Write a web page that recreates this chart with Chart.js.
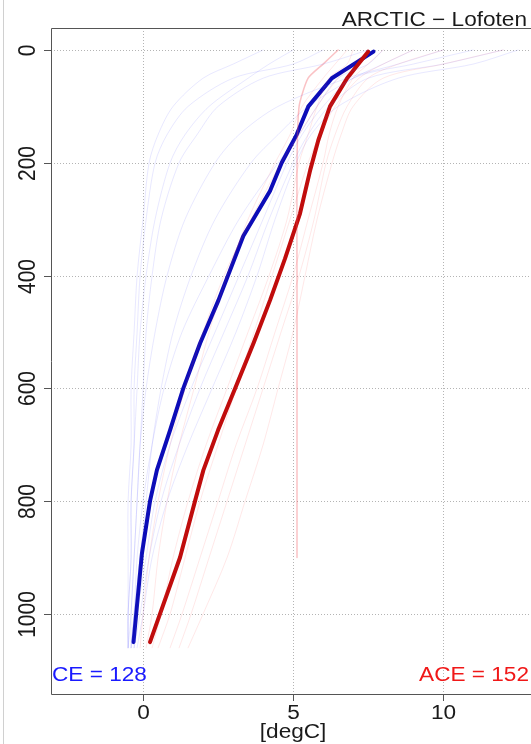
<!DOCTYPE html>
<html>
<head>
<meta charset="utf-8">
<script src="https://cdn.jsdelivr.net/npm/chart.js@4/dist/chart.umd.min.js"></script>
<style>
html, body { margin: 0; padding: 0; background: #fff; overflow: hidden; }
</style>
</head>
<body>
<canvas id="profileChart" width="531" height="744"></canvas>
<script>
// mean profiles (depth in m, temperature in degC)
var ceDepth = [3, 50, 100, 150, 200, 250, 330, 444, 520, 600, 674, 745, 800, 893, 1050];
var ceTemp = [7.68, 6.29, 5.51, 5.12, 4.62, 4.23, 3.34, 2.51, 1.9, 1.34, 0.9, 0.46, 0.23, -0.04, -0.32];
var aceDepth = [3, 50, 100, 160, 213, 290, 370, 444, 520, 600, 674, 745, 800, 900, 1050];
var aceTemp = [7.5, 6.8, 6.23, 5.84, 5.57, 5.23, 4.73, 4.23, 3.68, 3.07, 2.5, 2.01, 1.73, 1.23, 0.23];

// a few of the individual profiles behind the means
var profileDepth = [0, 25, 50, 100, 150, 200, 300, 400, 500, 600, 700, 800, 900, 1000, 1060];
var ceProfiles = [
    [7.5, 6, 4, 2.5, 1.8, 1.2, 0.6, 0.3, 0.1, 0, -0.1, -0.2, -0.3, -0.4, -0.4],
    [9, 8, 7, 5.5, 4.5, 3.6, 2.4, 1.6, 1.0, 0.6, 0.3, 0.1, -0.1, -0.3, -0.4],
    [11, 9, 7, 6, 5.3, 4.8, 4, 3.2, 2.4, 1.6, 0.9, 0.4, 0.1, -0.2, -0.3],
    [6, 5, 3, 1.5, 0.8, 0.4, 0.1, -0.1, -0.2, -0.3, -0.3, -0.4, -0.4, -0.5, -0.5],
    [8, 7.5, 6.5, 5.8, 5.2, 4.5, 3.2, 2.2, 1.3, 0.7, 0.3, 0, -0.2, -0.3, -0.4],
    [12, 10, 7.5, 6.2, 5.5, 5, 4.2, 3.5, 2.7, 1.9, 1.2, 0.6, 0.2, -0.1, -0.3],
    [4, 3, 2, 1, 0.5, 0.2, 0, -0.2, -0.3, -0.4, -0.4, -0.5, -0.5, -0.5, -0.5],
    [10, 8.5, 6.8, 4.5, 3.2, 2.4, 1.4, 0.8, 0.4, 0.1, -0.1, -0.2, -0.3, -0.4, -0.5],
    [5, 4.2, 3.5, 2.2, 1.4, 0.9, 0.4, 0.1, -0.1, -0.2, -0.3, -0.4, -0.4, -0.5, -0.5],
    [12.5, 11, 8.5, 6.5, 5.6, 5.1, 4.4, 3.8, 3.1, 2.3, 1.5, 0.8, 0.3, 0, -0.2]
];
var aceProfiles = [
    [8, 7.5, 7, 6.5, 6.2, 6, 5.5, 5, 4.4, 3.8, 3.1, 2.5, 1.9, 1.3, 0.9],
    [7, 6.8, 6.2, 5.8, 5.5, 5.2, 4.8, 4.2, 3.5, 2.8, 2.1, 1.5, 1, 0.6, 0.3],
    [10, 8.5, 7.5, 6.8, 6.4, 6.1, 5.7, 5.2, 4.6, 4, 3.4, 2.8, 2.2, 1.6, 1.2],
    [7.5, 7, 6.5, 5.8, 5.2, 4.6, 3.6, 2.7, 2, 1.4, 0.9, 0.5, 0.2, 0, -0.1],
    [12, 10, 8, 7, 6.6, 6.3, 5.8, 5.4, 5, 4.5, 4, 3.4, 2.8, 2, 1.5],
    [9, 8, 7.2, 6.4, 5.9, 5.5, 4.9, 4.3, 3.7, 3.1, 2.5, 1.9, 1.4, 0.9, 0.5],
    [6.8, 6.4, 6, 5.3, 4.9, 4.4, 3.5, 2.8, 2.2, 1.7, 1.2, 0.8, 0.5, 0.3, 0.1]
];
// the stack of profiles sitting near 5 degC down to 900 m
var flatDepth = [0, 25, 50, 100, 200, 400, 600, 800, 900];
var flatTemp = [6.5, 6, 5.5, 5.2, 5.13, 5.13, 5.13, 5.13, 5.13];

var xTicks = [0, 5, 10];
var yTicks = [0, 200, 400, 600, 800, 1000];
var ceLabel = 'CE = 128';
var aceLabel = 'ACE = 152';
var titleText = 'ARCTIC \u2212 Lofoten';
var xTitle = '[degC]';

function toPoints(temps, depths) {
    var pts = [];
    for (var i = 0; i < temps.length; i++) {
        if (temps[i] !== null) {
            pts.push({x: temps[i], y: depths[i]});
        }
    }
    return pts;
}

var datasets = [];
ceProfiles.forEach(function (p) {
    datasets.push({data: toPoints(p, profileDepth), borderColor: 'rgba(90,90,255,0.14)', borderWidth: 1, tension: 0.3});
});
aceProfiles.forEach(function (p) {
    datasets.push({data: toPoints(p, profileDepth), borderColor: 'rgba(255,80,80,0.13)', borderWidth: 1, tension: 0.3});
});
datasets.push({data: toPoints(flatTemp, flatDepth), borderColor: 'rgba(240,80,90,0.35)', borderWidth: 1.5, tension: 0.2});
datasets.push({data: toPoints(aceTemp, aceDepth), borderColor: '#c00c0c', borderWidth: 4, tension: 0});
datasets.push({data: toPoints(ceTemp, ceDepth), borderColor: '#0c0cb8', borderWidth: 4, tension: 0});

var FONT = '"Liberation Sans", Arial, sans-serif';
var STRETCH = 1.13; // text in the original is a little wider than tall

function wideText(c, text, x, y, align) {
    c.save();
    c.translate(x, y);
    c.scale(STRETCH, 1);
    c.textAlign = align;
    c.fillText(text, 0, 0);
    c.restore();
}

var framePlugin = {
    id: 'frame',
    beforeDatasetsDraw: function (chart) {
        var c = chart.ctx, a = chart.chartArea;
        var xs = chart.scales.x, ys = chart.scales.y;
        c.save();
        c.strokeStyle = '#b4b4b4';
        c.lineWidth = 1;
        c.setLineDash([1, 2]);
        xTicks.forEach(function (t) {
            var px = Math.round(xs.getPixelForValue(t)) + 0.5;
            c.beginPath(); c.moveTo(px, a.top); c.lineTo(px, a.bottom); c.stroke();
        });
        yTicks.forEach(function (t) {
            var py = Math.round(ys.getPixelForValue(t)) + 0.5;
            c.beginPath(); c.moveTo(a.left, py); c.lineTo(a.right, py); c.stroke();
        });
        c.restore();
    },
    afterDraw: function (chart) {
        var c = chart.ctx, a = chart.chartArea;
        var xs = chart.scales.x, ys = chart.scales.y;
        c.save();
        // image frame
        c.strokeStyle = '#d0d0d0';
        c.lineWidth = 1;
        c.beginPath(); c.moveTo(3.5, 0); c.lineTo(3.5, 744); c.stroke();

        // plot box
        c.strokeStyle = '#555';
        c.beginPath();
        c.moveTo(a.right + 5, Math.round(a.top) + 0.5);
        c.lineTo(Math.round(a.left) + 0.5, Math.round(a.top) + 0.5);
        c.lineTo(Math.round(a.left) + 0.5, Math.round(a.bottom) + 0.5);
        c.lineTo(a.right + 5, Math.round(a.bottom) + 0.5);
        c.stroke();

        c.fillStyle = '#1a1a1a';
        c.textBaseline = 'alphabetic';
        // y ticks (rotated labels)
        c.font = '21px ' + FONT;
        yTicks.forEach(function (t) {
            var py = Math.round(ys.getPixelForValue(t)) + 0.5;
            c.beginPath(); c.moveTo(a.left - 7, py); c.lineTo(a.left, py); c.stroke();
            c.save();
            c.translate(35, py);
            c.scale(STRETCH, 1);
            c.rotate(-Math.PI / 2);
            c.textAlign = 'center';
            c.fillText(String(t), 0, 0);
            c.restore();
        });
        // x ticks
        c.font = '20px ' + FONT;
        xTicks.forEach(function (t) {
            var px = Math.round(xs.getPixelForValue(t)) + 0.5;
            c.beginPath(); c.moveTo(px, a.bottom); c.lineTo(px, a.bottom + 7); c.stroke();
            wideText(c, String(t), px, 719, 'center');
        });
        wideText(c, xTitle, xs.getPixelForValue(5), 738, 'center');

        // title
        wideText(c, titleText, 527, 26, 'right');

        // counts
        c.fillStyle = '#1a1aff';
        wideText(c, ceLabel, a.left + 1, 681, 'left');
        c.fillStyle = '#f01818';
        wideText(c, aceLabel, 529, 681, 'right');
        c.restore();
    }
};

var ctx = document.getElementById('profileChart').getContext('2d');
new Chart(ctx, {
    type: 'scatter',
    data: {datasets: datasets},
    plugins: [framePlugin],
    options: {
        responsive: false,
        animation: false,
        devicePixelRatio: 1,
        showLine: true,
        layout: {padding: {left: 51, top: 28, right: 0, bottom: 50}},
        elements: {point: {radius: 0}, line: {borderCapStyle: 'round', borderJoinStyle: 'round'}},
        plugins: {legend: {display: false}, tooltip: {enabled: false}},
        scales: {
            x: {type: 'linear', min: -3.07, max: 12.93, display: false},
            y: {type: 'linear', min: -39, max: 1142, reverse: true, display: false}
        }
    }
});
</script>
</body>
</html>
